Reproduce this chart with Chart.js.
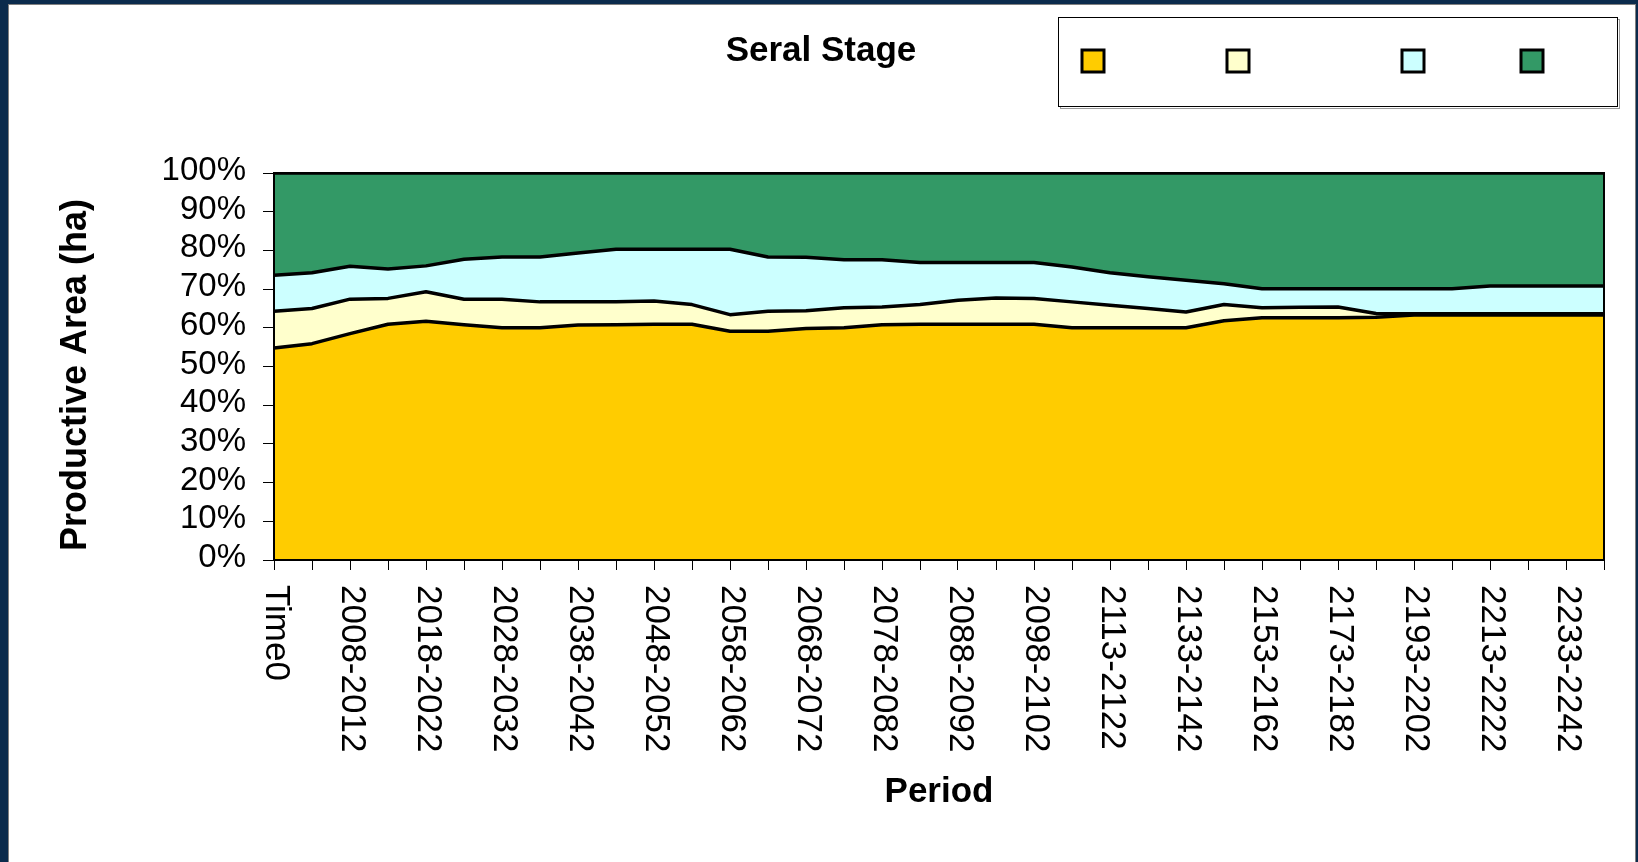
<!DOCTYPE html>
<html><head><meta charset="utf-8">
<script src="https://cdn.jsdelivr.net/npm/chart.js@4.4.1/dist/chart.umd.min.js"></script>
<style>html,body{margin:0;padding:0;background:#fff;overflow:hidden}canvas{display:block}</style>
</head><body>
<canvas id="c" width="1638" height="862"></canvas>
<script>
// Categories (every other one is labelled on the axis)
const periods = ['Time0','2003-2007','2008-2012','2013-2017','2018-2022','2023-2027','2028-2032','2033-2037',
  '2038-2042','2043-2047','2048-2052','2053-2057','2058-2062','2063-2067','2068-2072','2073-2077',
  '2078-2082','2083-2087','2088-2092','2093-2097','2098-2102','2103-2112','2113-2122','2123-2132',
  '2133-2142','2143-2152','2153-2162','2163-2172','2173-2182','2183-2192','2193-2202','2203-2212',
  '2213-2222','2223-2232','2233-2242','2243-2252'];

// Series values (% of productive area)
const stage1 = [54.8,55.9,58.5,60.9,61.7,60.8,60.0,60.0,60.7,60.8,60.9,60.9,59.1,59.1,59.8,60.0,
  60.8,60.9,60.9,60.9,60.9,60.0,60.0,60.0,60.0,61.8,62.6,62.6,62.6,62.7,63.3,63.3,63.3,63.3,63.3,63.3];
const stage2 = [9.5,9.1,8.9,6.7,7.6,6.6,7.4,6.7,6.0,5.9,6.0,5.1,4.3,5.2,4.6,5.2,
  4.6,5.1,6.2,6.8,6.7,6.7,5.8,5.0,4.1,4.2,2.6,2.7,2.8,1.0,0.3,0.3,0.3,0.3,0.3,0.3];
const stage3 = [9.3,9.2,8.5,7.6,6.7,10.3,10.9,11.6,12.6,13.6,13.4,14.3,16.9,14.0,13.8,12.4,
  12.2,10.9,9.8,9.2,9.3,9.0,8.4,8.2,8.2,5.4,4.9,4.8,4.7,6.4,6.5,6.5,7.2,7.2,7.2,7.2];
const stage4 = [26.4,25.8,24.1,24.8,24.0,22.3,21.7,21.7,20.7,19.7,19.7,19.7,19.7,21.7,21.8,22.4,
  22.4,23.1,23.1,23.1,23.1,24.3,25.8,26.8,27.7,28.6,29.9,29.9,29.9,29.9,29.9,29.9,29.2,29.2,29.2,29.2];

const seriesNames = ['Stage 1','Stage 2','Stage 3','Stage 4'];
const seriesColors = ['#FFCC00','#FFFFCC','#CCFFFF','#339966'];
const yTickValues = [0,10,20,30,40,50,60,70,80,90,100];

const chartTitle = 'Seral Stage';
const xTitle = 'Period';
const yTitle = 'Productive Area (ha)';

const FONT = '"Liberation Sans", Arial, Helvetica, sans-serif';

const decor = {
  id: 'decor',
  beforeDraw(chart) {
    const ctx = chart.ctx;
    ctx.save();
    ctx.fillStyle = '#0b2b4c';
    ctx.fillRect(0, 0, chart.width, chart.height);
    ctx.fillStyle = '#ffffff';
    ctx.fillRect(9, 5, 1626, 857);
    ctx.strokeStyle = '#808080';
    ctx.lineWidth = 1;
    ctx.strokeRect(8.5, 4.5, 1627, 870);
    ctx.restore();
  },
  afterDraw(chart) {
    const ctx = chart.ctx;
    const ca = chart.chartArea;
    ctx.save();
    // plot area outline
    ctx.strokeStyle = '#000';
    ctx.lineWidth = 2;
    ctx.strokeRect(ca.left, ca.top, ca.right - ca.left, ca.bottom - ca.top);

    // x tick labels, rotated clockwise (read top to bottom)
    const xs = chart.scales.x;
    ctx.fillStyle = '#000';
    ctx.font = '35px ' + FONT;
    xs.ticks.forEach((t, i) => {
      if (!t.label) return;
      const px = xs.getPixelForTick(i);
      ctx.save();
      ctx.translate(px + 2, 585);
      ctx.rotate(Math.PI / 2);
      ctx.textAlign = 'left';
      ctx.textBaseline = 'middle';
      ctx.fillText(t.label, 0, 0);
      ctx.restore();
    });

    // y axis title
    ctx.save();
    ctx.translate(76, 375);
    ctx.rotate(-Math.PI / 2);
    ctx.textAlign = 'center';
    ctx.textBaseline = 'middle';
    ctx.font = 'bold 36px ' + FONT;
    ctx.fillText(yTitle, 0, 0);
    ctx.restore();

    // chart title
    ctx.textAlign = 'center';
    ctx.textBaseline = 'middle';
    ctx.font = 'bold 35px ' + FONT;
    ctx.fillText(chartTitle, 821, 51);

    // legend box
    ctx.strokeStyle = '#9a9a9a';
    ctx.lineWidth = 1;
    ctx.strokeRect(1060.5, 19.5, 559, 89);
    ctx.strokeStyle = '#000';
    ctx.strokeRect(1058.5, 17.5, 559, 89);
    ctx.fillStyle = '#fff';
    ctx.fillRect(1059, 18, 558, 88);
    const cx = [1093, 1238, 1413, 1532];
    chart.data.datasets.forEach((ds, i) => {
      ctx.fillStyle = '#000';
      ctx.fillRect(cx[i] - 12.5, 48.5, 25, 25);
      ctx.fillStyle = ds.backgroundColor;
      ctx.fillRect(cx[i] - 9.5, 51.5, 19, 19);
    });
    ctx.restore();
  }
};

const seriesData = [stage1, stage2, stage3, stage4];
const datasets = seriesData.map((d, i) => ({
  label: seriesNames[i],
  data: d,
  backgroundColor: seriesColors[i],
  borderColor: '#000',
  borderWidth: 3.5,
  fill: i === 0 ? 'origin' : '-1',
  pointRadius: 0,
  tension: 0,
  borderJoinStyle: 'round'
}));

new Chart(document.getElementById('c'), {
  type: 'line',
  data: { labels: periods, datasets },
  options: {
    responsive: false,
    animation: false,
    devicePixelRatio: 1,
    layout: { padding: { left: 20, right: 34, top: 173, bottom: 20 } },
    plugins: {
      legend: { display: false },
      tooltip: { enabled: false },
      title: { display: false },
      filler: { drawTime: 'beforeDatasetsDraw' }
    },
    scales: {
      x: {
        type: 'category',
        offset: false,
        grid: { display: true, drawOnChartArea: false, drawTicks: true, tickLength: 10, color: '#000', lineWidth: 1 },
        border: { display: true, color: '#000', width: 2 },
        ticks: {
          autoSkip: false, maxRotation: 0, minRotation: 0,
          color: 'rgba(0,0,0,0)',
          font: { size: 35, family: FONT },
          callback(v, i) { return i % 2 === 0 ? this.getLabelForValue(v) : ''; }
        },
        title: { display: true, text: xTitle, color: '#000', font: { size: 35, weight: 'bold', family: FONT }, padding: { top: 0, bottom: 29 } },
        afterFit(s) { s.height = 282; }
      },
      y: {
        stacked: true,
        min: 0, max: 100,
        afterBuildTicks(s) { s.ticks = yTickValues.map(v => ({ value: v })); },
        ticks: {
          autoSkip: false,
          color: '#000',
          font: { size: 33, family: FONT },
          padding: 17,
          labelOffset: -2,
          callback: v => v + '%'
        },
        grid: { display: true, drawOnChartArea: false, drawTicks: true, tickLength: 11, color: '#000', lineWidth: 1 },
        border: { display: true, color: '#000', width: 2 },
        afterFit(s) { s.width = 254; }
      }
    }
  },
  plugins: [decor]
});
</script>
</body></html>
